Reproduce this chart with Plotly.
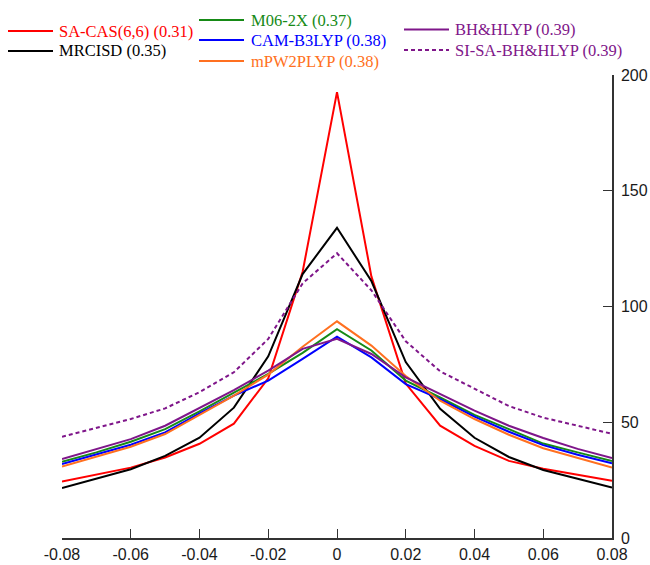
import plotly.graph_objects as go

x_vals = [-0.08, -0.07, -0.06, -0.05, -0.04, -0.03, -0.02, -0.01, 0.0,
          0.01, 0.02, 0.03, 0.04, 0.05, 0.06, 0.07, 0.08]

sa_cas = [24.4, 27.4, 30.4, 34.8, 40.7, 49.4, 69.0, 115.0, 192.6, 113.0, 66.7, 48.5, 39.8, 33.3, 29.9, 27.3, 24.7]
mrcisd = [21.6, 25.7, 29.7, 35.5, 43.3, 56.3, 78.5, 114.0, 134.0, 111.0, 76.0, 55.8, 43.3, 35.0, 29.4, 25.6, 21.8]
m062x = [32.9, 37.0, 41.6, 47.0, 54.7, 62.9, 70.9, 80.0, 90.2, 81.0, 68.0, 60.7, 53.2, 47.0, 40.8, 37.0, 33.3]
camb3lyp = [31.9, 36.0, 40.3, 45.6, 53.8, 61.5, 68.0, 77.4, 87.0, 78.0, 66.5, 60.0, 52.4, 45.9, 40.1, 36.0, 32.3]
mpw2plyp = [30.9, 35.0, 39.4, 44.9, 53.1, 61.5, 70.6, 82.6, 93.6, 83.1, 70.0, 59.3, 51.4, 44.6, 38.8, 34.5, 30.4]
bhhlyp = [34.1, 38.3, 42.7, 48.5, 56.1, 63.9, 72.3, 81.7, 86.0, 79.5, 69.4, 62.2, 55.0, 48.5, 43.2, 38.5, 34.5]
si_sa_bhhlyp = [43.7, 47.5, 51.4, 56.0, 63.0, 71.6, 86.0, 110.0, 123.0, 107.0, 85.0, 72.0, 64.5, 57.0, 52.0, 48.5, 45.0]

names = ["SA-CAS(6,6) (0.31)", "MRCISD (0.35)", "M06-2X (0.37)", "CAM-B3LYP (0.38)",
         "mPW2PLYP (0.38)", "BH&HLYP (0.39)", "SI-SA-BH&HLYP (0.39)"]
series = [sa_cas, mrcisd, m062x, camb3lyp, mpw2plyp, bhhlyp, si_sa_bhhlyp]
colors = ["#ff0000", "#000000", "#168a16", "#0000ff", "#ff7020", "#7f168a", "#7f168a"]
dashes = ["solid", "solid", "solid", "solid", "solid", "solid", "4px,3px"]

x_ticks = [-0.08, -0.06, -0.04, -0.02, 0, 0.02, 0.04, 0.06, 0.08]
x_ticktext = ["-0.08", "-0.06", "-0.04", "-0.02", "0", "0.02", "0.04", "0.06", "0.08"]
y_ticks = [0, 50, 100, 150, 200]

# legend layout in pixels (line x0, x1, text x, y)
leg_pos = [(8, 53, 57, 31), (8, 53, 57, 51), (199, 244, 249, 20), (199, 244, 249, 40),
           (199, 244, 249, 61), (404, 449, 453, 29.5), (404, 449, 453, 50)]

W, H = 650, 565
L, R, T, B = 62, 38, 75, 27
pw, ph = W - L - R, H - T - B

fig = go.Figure()
for nm, ys, c, d in zip(names, series, colors, dashes):
    fig.add_trace(go.Scatter(x=x_vals, y=ys, mode="lines", name=nm,
                             line=dict(color=c, width=2, dash=d), showlegend=False))

shapes = []
annots = []
for (x0, x1, tx, yy), nm, c, d in zip(leg_pos, names, colors, dashes):
    py = (H - B - yy) / ph
    shapes.append(dict(type="line", xref="paper", yref="paper",
                       x0=(x0 - L) / pw, x1=(x1 - L) / pw, y0=py, y1=py,
                       line=dict(color=c, width=2, dash=d)))
    annots.append(dict(xref="paper", yref="paper", x=(tx - L) / pw, y=py,
                       xanchor="left", yanchor="middle", text=nm, showarrow=False,
                       font=dict(family="Liberation Serif", size=16.5, color=c)))

fig.update_layout(
    width=W, height=H, margin=dict(l=L, r=R, t=T, b=B, autoexpand=False),
    plot_bgcolor="white", paper_bgcolor="white",
    shapes=shapes, annotations=annots,
    xaxis=dict(range=[-0.08, 0.08], tickvals=x_ticks, ticktext=x_ticktext,
               showgrid=False, zeroline=False, showline=True, linecolor="#333",
               linewidth=1.5, ticks="inside", ticklen=9, tickcolor="#333",
               ticklabelstandoff=1, automargin=False,
               tickfont=dict(family="Liberation Sans", size=16, color="#1a1a1a")),
    yaxis=dict(range=[0, 200], tickvals=y_ticks, side="right",
               showgrid=False, zeroline=False, showline=True, linecolor="#333",
               linewidth=1.5, ticks="inside", ticklen=9, tickcolor="#333",
               ticklabelstandoff=4, automargin=False,
               tickfont=dict(family="Liberation Sans", size=16, color="#1a1a1a")),
)
fig.write_html("out.html")
